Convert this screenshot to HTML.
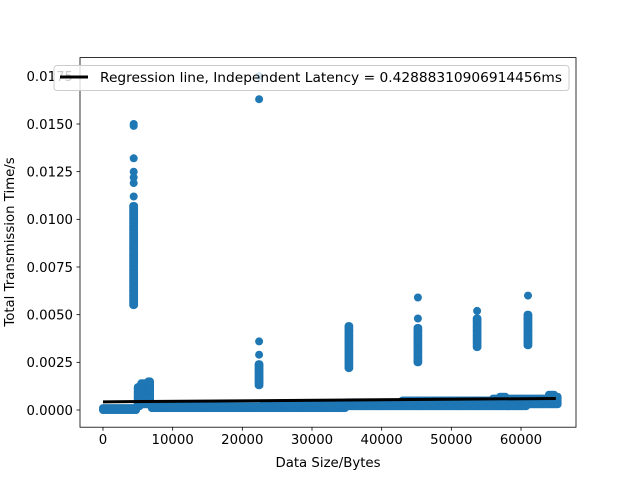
<!DOCTYPE html>
<html><head><meta charset="utf-8"><style>body{margin:0;background:#fff}svg{display:block;font-family:"DejaVu Sans","Liberation Sans",sans-serif}</style></head>
<body>
<svg id="c" width="640" height="480"></svg>
<script>
const xTicks=[0,10000,20000,30000,40000,50000,60000];
const yTicks=[0,0.0025,0.005,0.0075,0.01,0.0125,0.015,0.0175];
const yTickLabels=["0.0000","0.0025","0.0050","0.0075","0.0100","0.0125","0.0150","0.0175"];
// base band: x, low, high
const bandX=[0,1000,2000,3000,4000,5000,5500,6000,6500,7000,8000,9000,10000,11000,12000,13000,14000,15000,16000,17000,18000,19000,20000,21000,22000,23000,24000,25000,26000,27000,28000,29000,30000,31000,32000,33000,34000,35000,36000,37000,38000,39000,40000,41000,42000,43000,44000,45000,46000,47000,48000,49000,50000,51000,52000,53000,54000,55000,56000,57000,58000,59000,60000,61000,62000,63000,64000,65000];
const bandLow=[0,0,0,0,0,0.0002,0.0003,0.0003,0.0003,0.0001,0.0001,0.0001,0.0001,0.0001,0.0001,0.0001,0.0001,0.0001,0.0001,0.0001,0.0001,0.0001,0.0001,0.0001,0.0001,0.0001,0.0001,0.0001,0.0001,0.0001,0.0001,0.0001,0.0001,0.0001,0.0001,0.0001,0.0001,0.0002,0.0002,0.0002,0.0002,0.0002,0.0002,0.0002,0.0002,0.0002,0.0002,0.0002,0.0002,0.0002,0.0002,0.0002,0.0002,0.0002,0.0002,0.0002,0.0002,0.0002,0.0002,0.0002,0.0002,0.0002,0.0002,0.0003,0.0003,0.0003,0.0003,0.0003];
const bandHigh=[0.0001,0.0001,0.0001,0.0001,0.0001,0.0012,0.0014,0.0014,0.0015,0.0002,0.0002,0.0002,0.0002,0.0002,0.0002,0.0002,0.0002,0.0002,0.0002,0.0002,0.0002,0.0002,0.0002,0.0002,0.0002,0.0003,0.0003,0.0003,0.0003,0.0003,0.0003,0.0003,0.0003,0.0003,0.0003,0.0003,0.0003,0.0004,0.0004,0.0004,0.0004,0.0004,0.0004,0.0004,0.0004,0.0005,0.0005,0.0005,0.0005,0.0005,0.0005,0.0005,0.0005,0.0005,0.0005,0.0005,0.0005,0.0005,0.0006,0.0007,0.0006,0.0006,0.0006,0.0006,0.0006,0.0006,0.0008,0.0007];
const colX=[4400,22400,35300,45200,53700,61000];
const colLow=[0.0055,0.0013,0.0022,0.0025,0.0033,0.0034];
const colHigh=[0.0107,0.0024,0.0044,0.0043,0.0048,0.0050];
const outX=[4400,4400,4400,4400,4400,4400,4400,22400,22400,22400,22400,45200,45200,53700,61000];
const outY=[0.0150,0.0149,0.0132,0.0125,0.0122,0.0119,0.0112,0.0163,0.0029,0.0036,0.0175,0.0059,0.0048,0.0052,0.0060];
const regX=[0,65000];
const regY=[0.000429,0.000605];
const NS="http://www.w3.org/2000/svg";
const svg=document.getElementById('c');
const L=80,R=576,T=57.6,B=427.2;
const X=v=>103+v*(521-103)/60000;
const Y=v=>410-v*(410-124)/0.015;
function mk(t,a,p){const e=document.createElementNS(NS,t);for(const k in a)e.setAttribute(k,a[k]);(p||svg).appendChild(e);return e;}
const dots=mk('g',{fill:'#1f77b4'});


function dot(x,y){mk('circle',{cx:X(x).toFixed(1),cy:Y(y).toFixed(1),r:4},dots);}
for(let i=0;i<bandX.length;i++){const x0=bandX[i],x1=i+1<bandX.length?bandX[i+1]:x0+500;for(let x=x0;x<x1;x+=250){for(let y=bandLow[i];y<=bandHigh[i]+1e-9;y+=0.00005)dot(x,y);}}
for(let i=0;i<colX.length;i++){for(let y=colLow[i];y<=colHigh[i]+1e-9;y+=0.0001){dot(colX[i]-60,y);dot(colX[i]+60,y);}}
for(let i=0;i<outX.length;i++)dot(outX[i],outY[i]);
const reg=mk('line',{x1:X(regX[0]),y1:Y(regY[0]),x2:X(regX[1]),y2:Y(regY[1]),stroke:'#000','stroke-width':3});


const frame=mk('rect',{x:L,y:T,width:R-L,height:B-T,fill:'none',stroke:'#000','stroke-width':0.8});


for(let i=0;i<xTicks.length;i++){const x=X(xTicks[i]);mk('line',{x1:x,y1:B,x2:x,y2:B+3.5,stroke:'#000','stroke-width':0.8});
const t=mk('text',{x:x,y:B+17,'text-anchor':'middle','font-size':13.3});t.textContent=String(xTicks[i]);

}
for(let i=0;i<yTicks.length;i++){const y=Y(yTicks[i]);mk('line',{x1:L-3.5,y1:y,x2:L,y2:y,stroke:'#000','stroke-width':0.8});
const t=mk('text',{x:L-7,y:y+4.8,'text-anchor':'end','font-size':13.3});t.textContent=yTickLabels[i];

}
const xl=mk('text',{x:328,y:467,'text-anchor':'middle','font-size':13.3});xl.textContent='Data Size/Bytes';


const yl=mk('text',{x:0,y:0,'text-anchor':'middle','font-size':13.3,transform:'translate(14,242) rotate(-90)'});yl.textContent='Total Transmission Time/s';


const lg=mk('g',{});


mk('rect',{x:54,y:65.5,width:515,height:25,rx:3,fill:'#fff','fill-opacity':0.8,stroke:'#ccc','stroke-width':1},lg);
mk('line',{x1:60,y1:77,x2:88,y2:77,stroke:'#000','stroke-width':3},lg);
const lt=mk('text',{x:100,y:82,'font-size':13.3,textLength:462,lengthAdjust:'spacingAndGlyphs'},lg);
lt.textContent='Regression line, Independent Latency = 0.42888310906914456ms';
</script>
</body></html>
